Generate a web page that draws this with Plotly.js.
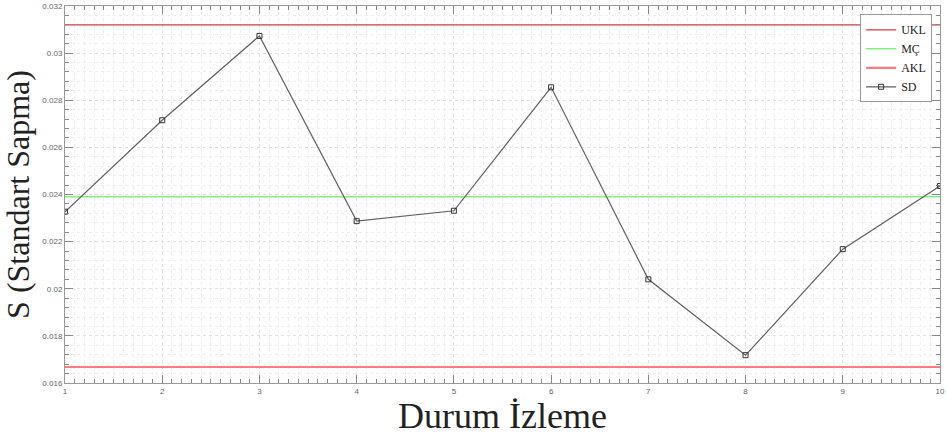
<!DOCTYPE html>
<html>
<head>
<meta charset="utf-8">
<script src="https://cdn.plot.ly/plotly-3.0.1.min.js"></script>
<style>
html,body{margin:0;padding:0;background:#fff;}
#chart{width:946px;height:439px;}
</style>
</head>
<body>
<div id="chart"></div>
<script>
// Data
var xVals = [1, 2, 3, 4, 5, 6, 7, 8, 9, 10];
var sdVals = [0.02327, 0.02715, 0.03073, 0.02287, 0.02331, 0.02855, 0.02040, 0.01718, 0.02168, 0.02436];
var uklVal = 0.03120;
var mcVal = 0.02390;
var aklVal = 0.01668;
var yTickVals = [0.016, 0.018, 0.020, 0.022, 0.024, 0.026, 0.028, 0.030, 0.032];
var yTickText = ["0.016", "0.018", "0.02", "0.022", "0.024", "0.026", "0.028", "0.03", "0.032"];
var xTickVals = [1, 2, 3, 4, 5, 6, 7, 8, 9, 10];
var xTickText = ["1", "2", "3", "4", "5", "6", "7", "8", "9", "10"];

function constLine(v) { return xVals.map(function () { return v; }); }

var traces = [
  {x: xVals, y: constLine(uklVal), name: 'UKL', mode: 'lines', line: {color: '#d83a3a', width: 1.2}},
  {x: xVals, y: constLine(mcVal), name: 'MÇ', mode: 'lines', line: {color: '#80f080', width: 1.5}},
  {x: xVals, y: constLine(aklVal), name: 'AKL', mode: 'lines', line: {color: '#ff7a7a', width: 2.2}},
  {x: xVals, y: sdVals, name: 'SD', mode: 'lines+markers',
   line: {color: '#606060', width: 1.2},
   marker: {symbol: 'square-open', size: 5, color: '#333', line: {width: 1, color: '#333'}}}
];

var tickFont = {family: 'Liberation Sans, Arial, sans-serif', size: 8, color: '#666'};
var serif = 'Liberation Serif';

var layout = {
  width: 946, height: 439,
  margin: {l: 65, r: 6, t: 6, b: 56},
  paper_bgcolor: '#fff', plot_bgcolor: '#fff',
  showlegend: true,
  legend: {x: 0.991, y: 0.978, xanchor: 'right', yanchor: 'top',
           bgcolor: '#fff', bordercolor: '#999', borderwidth: 1,
           font: {family: serif, size: 12, color: '#222'},
           tracegroupgap: 0, itemwidth: 30},
  xaxis: {
    range: [1, 10], tickvals: xTickVals, ticktext: xTickText,
    ticks: 'inside', ticklen: 8, tickcolor: '#888', tickwidth: 1,
    mirror: 'allticks', showline: true, linecolor: '#999', linewidth: 1,
    showgrid: true, gridcolor: '#e2e2e2', griddash: 'dot', gridwidth: 1,
    zeroline: false, tickfont: tickFont, ticklabeloverflow: 'allow',
    minor: {dtick: 0.1, ticks: 'inside', ticklen: 4, tickcolor: '#888', showgrid: true, gridcolor: '#efefef', griddash: 'dot', gridwidth: 1},
    title: {text: 'Durum İzleme', font: {family: serif, size: 36, color: '#222'}, standoff: 4}
  },
  yaxis: {
    range: [0.016, 0.032], tickvals: yTickVals, ticktext: yTickText,
    ticks: 'inside', ticklen: 8, tickcolor: '#888', tickwidth: 1,
    mirror: 'allticks', showline: true, linecolor: '#999', linewidth: 1,
    showgrid: true, gridcolor: '#e2e2e2', griddash: 'dot', gridwidth: 1,
    zeroline: false, tickfont: tickFont, ticklabeloverflow: 'allow',
    minor: {dtick: 0.0004, ticks: 'inside', ticklen: 4, tickcolor: '#888', showgrid: true, gridcolor: '#efefef', griddash: 'dot', gridwidth: 1},
    title: {text: 'S (Standart Sapma)', font: {family: serif, size: 32, color: '#222'}, standoff: 4}
  }
};

Plotly.newPlot('chart', traces, layout, {displayModeBar: false, staticPlot: true});
</script>
</body>
</html>
